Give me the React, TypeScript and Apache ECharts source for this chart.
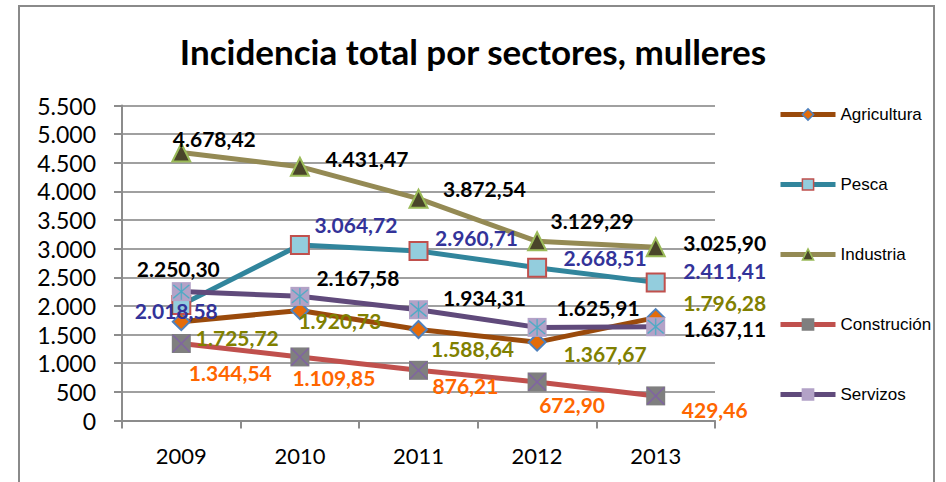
import React, { useEffect, useRef } from "react";
import * as echarts from "echarts";

const years = ["2009", "2010", "2011", "2012", "2013"];
const agricultura = [1725.72, 1920.73, 1588.64, 1367.67, 1796.28];
const pesca = [2018.58, 3064.72, 2960.71, 2668.51, 2411.41];
const industria = [4678.42, 4431.47, 3872.54, 3129.29, 3025.9];
const construcion = [1344.54, 1109.85, 876.21, 672.9, 429.46];
const servizos = [2250.3, 2167.58, 1934.31, 1625.91, 1637.11];

const yMin = 0;
const yMax = 5500;
const yStep = 500;

// label placement (style only): offsets from each point, in px
const offAgricultura = [[56, 16], [40, 10], [54, 19], [68, 11], [69, -15]];
const offPesca = [[-5, 6], [56, -20], [58, -13], [68, -10], [69, -12]];
const offIndustria = [[33, -14], [67, -8], [66, -10], [55, -21], [69, -5]];
const offConstrucion = [[49, 29], [34, 21], [47, 15], [35, 23], [59, 14]];
const offServizos = [[-3, -23], [58, -19], [66, -12], [61, -20], [69, 2]];

const thousands = (s: string) => s.replace(/\B(?=(\d{3})+(?!\d))/g, ".");
const fmtTick = (v: number) => thousands(String(Math.round(v)));
const fmtVal = (v: number) => {
  const [i, d] = v.toFixed(2).split(".");
  return thousands(i) + "," + d;
};

const labelFont = {
  fontFamily: "Lato",
  fontWeight: "bold" as const,
  fontSize: 21,
};

function makeSeries(
  name: string,
  values: number[],
  offsets: number[][],
  lineColor: string,
  labelColor: string,
  symbol: string,
  symbolSize: number | number[],
  fill: string,
  border: string,
  borderWidth: number
) {
  return {
    name,
    type: "line",
    color: fill,
    data: values.map((v, i) => ({
      value: v,
      label: { offset: offsets[i] },
    })),
    symbol,
    symbolSize,
    showAllSymbol: true,
    lineStyle: { color: lineColor, width: 5 },
    itemStyle: { color: fill, borderColor: border, borderWidth },
    emphasis: { disabled: true },
    label: {
      show: true,
      position: "inside",
      align: "center",
      verticalAlign: "middle",
      color: labelColor,
      formatter: (p: any) => fmtVal(p.value),
      ...labelFont,
    },
  };
}

// marks drawn inside the square symbols (the cross / asterisk)
function overlay(name: string, values: number[], path: string, size: number, stroke: string) {
  return {
    name,
    type: "line",
    data: values,
    symbol: path,
    symbolSize: size,
    showAllSymbol: true,
    silent: true,
    z: 10,
    lineStyle: { width: 0, opacity: 0 },
    itemStyle: { color: stroke, borderColor: stroke, borderWidth: 0.4 },
    emphasis: { disabled: true },
    label: { show: false },
  };
}

function legendItem(name: string, lineColor: string, fill: string, border: string) {
  return {
    name,
    itemStyle: { color: fill, borderColor: border, borderWidth: 1.5 },
    lineStyle: { color: lineColor, width: 5 },
  };
}

export default function App() {
  const ref = useRef<HTMLDivElement>(null);
  useEffect(() => {
    if (!ref.current) return;
    const chart = echarts.init(ref.current, null, { renderer: "svg" });
    const option: any = {
      animation: false,
      backgroundColor: "#ffffff",
      title: {
        text: "Incidencia total por sectores, mulleres",
        left: "center",
        top: 28,
        textStyle: {
          fontFamily: "Lato",
          fontWeight: "bold",
          fontSize: 35,
          color: "#000000",
        },
      },
      graphic: [
        {
          type: "rect",
          shape: { x: 19, y: 6, width: 915, height: 500 },
          style: { fill: "none", stroke: "#8a8a8a", lineWidth: 2 },
          silent: true,
        },
      ],
      legend: {
        orient: "vertical",
        left: 773,
        top: 101,
        itemWidth: 55,
        itemHeight: 14,
        itemGap: 53,
        textStyle: {
          fontFamily: "Liberation Sans, Arial",
          fontSize: 17,
          color: "#000000",
        },
        data: [
          legendItem("Agricultura", "#9a4a0b", "#e46c0a", "#4f81bd"),
          legendItem("Pesca", "#31859c", "#93cddd", "#c0504d"),
          legendItem("Industria", "#948a54", "#4a452a", "#9bbb59"),
          legendItem("Construción", "#c0504d", "#7f7f7f", "#7f7f7f"),
          legendItem("Servizos", "#604a7b", "#b3a2c7", "#b3a2c7"),
        ],
      },
      grid: {
        left: 122,
        right: 231,
        top: 105.5,
        bottom: 61.5,
        containLabel: false,
        outerBoundsMode: "none",
      },
      xAxis: {
        type: "category",
        data: years,
        boundaryGap: true,
        axisLine: { show: true, lineStyle: { color: "#8c8c8c", width: 2 } },
        axisTick: { show: true, length: 8, lineStyle: { color: "#8c8c8c", width: 2 } },
        axisLabel: {
          margin: 24,
          fontFamily: "Lato",
          fontSize: 22,
          color: "#000000",
        },
        splitLine: { show: false },
      },
      yAxis: {
        type: "value",
        min: yMin,
        max: yMax,
        interval: yStep,
        axisLine: { show: true, lineStyle: { color: "#8c8c8c", width: 2 } },
        axisTick: { show: true, length: 8, inside: false, lineStyle: { color: "#8c8c8c", width: 2 } },
        axisLabel: {
          margin: 26,
          fontFamily: "Lato",
          fontSize: 23,
          color: "#000000",
          formatter: fmtTick,
        },
        splitLine: { show: true, lineStyle: { color: "#a0a0a0", width: 2 } },
      },
      series: [
        makeSeries("Agricultura", agricultura, offAgricultura, "#9a4a0b", "#808000", "diamond", [17, 17], "#e46c0a", "#4f81bd", 2),
        makeSeries("Pesca", pesca, offPesca, "#31859c", "#333399", "rect", 18, "#93cddd", "#c0504d", 2),
        makeSeries("Industria", industria, offIndustria, "#948a54", "#000000", "triangle", 18, "#4a452a", "#9bbb59", 2),
        makeSeries("Construción", construcion, offConstrucion, "#c0504d", "#ff6600", "rect", 19, "#7f7f7f", "#7f7f7f", 0),
        makeSeries("Servizos", servizos, offServizos, "#604a7b", "#000000", "rect", 19, "#b3a2c7", "#b3a2c7", 0),
        overlay("construcionX", construcion, "path://M0,0L1,0L20,19L20,20L19,20L0,1Z M20,0L20,1L1,20L0,20L0,19L19,0Z", 17, "#8064a2"),
        overlay("servizosX", servizos, "path://M0,0L1,0L20,19L20,20L19,20L0,1Z M20,0L20,1L1,20L0,20L0,19L19,0Z M9.5,-2L10.5,-2L10.5,22L9.5,22Z", 16, "#4bacc6"),
      ],
    };
    chart.setOption(option);
    return () => chart.dispose();
  }, []);
  return (
    <div
      ref={ref}
      style={{ position: "fixed", left: 0, top: 0, width: 946, height: 482 }}
    />
  );
}
